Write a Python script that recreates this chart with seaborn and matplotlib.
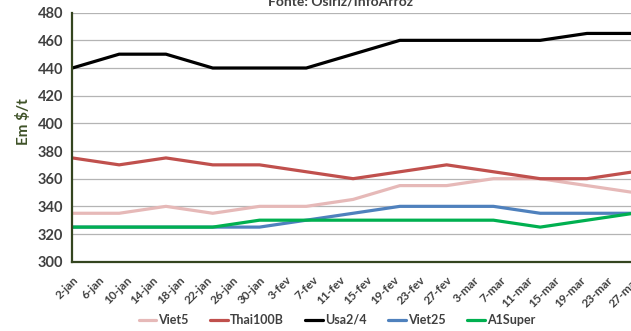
import pandas as pd
import numpy as np
import matplotlib
matplotlib.use("Agg")
import matplotlib.pyplot as plt
import matplotlib.transforms as mtransforms
import seaborn as sns

sns.set_style("white")
plt.rcParams["font.family"] = ["Lato", "DejaVu Sans"]
plt.rcParams["font.weight"] = "bold"

# weekly quotes, US$/t
dates = pd.date_range("2013-01-02", periods=13, freq="7D")
viet5 = [335, 335, 340, 335, 340, 340, 345, 355, 355, 360, 360, 355, 350]
thai100b = [375, 370, 375, 370, 370, 365, 360, 365, 370, 365, 360, 360, 365]
usa24 = [440, 450, 450, 440, 440, 440, 450, 460, 460, 460, 460, 465, 465]
viet25 = [325, 325, 325, 325, 325, 330, 335, 340, 340, 340, 335, 335, 335]
a1super = [325, 325, 325, 325, 330, 330, 330, 330, 330, 330, 325, 330, 335]

series = ["Viet5", "Thai100B", "Usa2/4", "Viet25", "A1Super"]
colors = ["#e6b9b8", "#c0504d", "#000000", "#4f81bd", "#00b050"]

tick_dates = pd.date_range("2013-01-02", periods=22, freq="4D")
tick_labels = ["2-jan", "6-jan", "10-jan", "14-jan", "18-jan", "22-jan", "26-jan",
               "30-jan", "3-fev", "7-fev", "11-fev", "15-fev", "19-fev", "23-fev",
               "27-fev", "3-mar", "7-mar", "11-mar", "15-mar", "19-mar", "23-mar",
               "27-mar"]

df = pd.DataFrame({"data": list(dates) * 5,
                   "preco": viet5 + thai100b + usa24 + viet25 + a1super,
                   "serie": np.repeat(series, len(dates))})

fig = plt.figure(figsize=(6.31, 3.31), dpi=100)
ax = fig.add_axes([0.1147, 0.2094, 0.9003, 0.7523])

sns.lineplot(data=df, x="data", y="preco", hue="serie", hue_order=series,
             palette=colors, linewidth=2.3, ax=ax, legend=False)

axis_col = "#34451f"
ax.set_xlim(pd.Timestamp("2013-01-02"), pd.Timestamp("2013-01-02") + pd.Timedelta(days=85))
ax.set_ylim(300, 480)
ax.set_yticks(range(300, 481, 20))
ax.set_xticks(tick_dates)
ax.set_xticklabels(tick_labels, rotation=45, ha="right", rotation_mode="anchor",
                   fontsize=8.5, fontweight="bold", color="#404040")
# nudge labels a little right/down like the original
shift = mtransforms.ScaledTranslation(4 / 100, -4 / 100, fig.dpi_scale_trans)
for lb in ax.get_xticklabels():
    lb.set_transform(lb.get_transform() + shift)
for lb in ax.get_yticklabels():
    lb.set_fontsize(10.5)
    lb.set_fontweight("bold")
    lb.set_color("#404040")

ax.grid(axis="y", color="#b4b4b4", linewidth=0.9)
ax.set_axisbelow(True)
for s in ["top", "right"]:
    ax.spines[s].set_visible(False)
for s in ["left", "bottom"]:
    ax.spines[s].set_color(axis_col)
    ax.spines[s].set_linewidth(1.6)
ax.tick_params(axis="y", direction="inout", length=7, width=1.3, color=axis_col, pad=3)
ax.tick_params(axis="x", direction="out", length=4, width=1.3, color=axis_col, pad=5)
ax.set_xlabel("")
ax.set_ylabel("")

fig.text(23 / 631, 1 - 122 / 331, "Em $/t", rotation=90, ha="center", va="center",
         fontsize=11, fontweight="bold", color="#3f5228")
fig.text(340 / 631, 1 - 5 / 331, "Fonte: Osiriz/InfoArroz", ha="center", va="baseline",
         fontsize=10, fontweight="bold", color="#404040")

handles = [plt.Line2D([], [], color=c, linewidth=2.3) for c in colors]
fig.legend(handles, series, loc="center", bbox_to_anchor=(337 / 631, 11 / 331),
           ncol=5, frameon=False, handlelength=1.4, handletextpad=0.2,
           columnspacing=1.7, prop={"size": 9, "weight": "bold"}, labelcolor="#404040")

fig.savefig("out.png", dpi=100)
